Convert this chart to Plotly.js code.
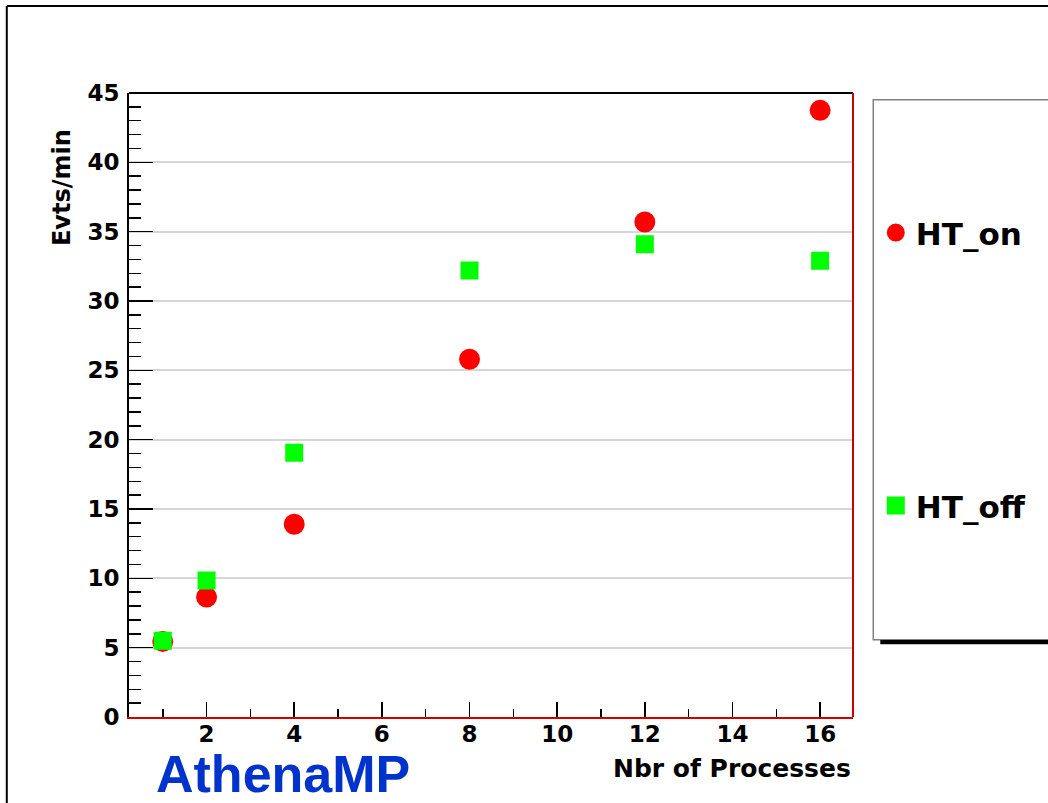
<!DOCTYPE html>
<html>
<head>
<meta charset="utf-8">
<script src="https://cdn.plot.ly/plotly-3.0.1.min.js"></script>
<style>
  html, body { margin: 0; padding: 0; background: #ffffff; }
  #chart { width: 1048px; height: 803px; }
</style>
</head>
<body>
<div id="chart"></div>
<script>
// ---- data ----
const procs = [1, 2, 4, 8, 12, 16];
const htOn  = [5.45, 8.65, 13.9, 25.8, 35.7, 43.75];
const htOff = [5.5, 9.85, 19.05, 32.2, 34.1, 32.9];
const seriesNames = ["HT_on", "HT_off"];
const xTickVals = [2, 4, 6, 8, 10, 12, 14, 16];
const yTickVals = [0, 5, 10, 15, 20, 25, 30, 35, 40, 45];
const xTitle = "Nbr of Processes";
const yTitle = "Evts/min";
const tag = "AthenaMP";

const tickFont = {family: "DejaVu Sans", size: 23, color: "#000000", weight: "bold"};
const titleFont = {family: "DejaVu Sans", size: 24, color: "#000000", weight: "bold"};
const legendFont = {family: "DejaVu Sans", size: 31, color: "#000000", weight: "bold"};

const traces = [
  {
    x: procs, y: htOn, name: seriesNames[0], type: "scatter", mode: "markers",
    marker: {symbol: "circle", size: 19, color: "#ff0000", line: {width: 2, color: "#ff0000"}},
    legend: "legend", cliponaxis: false
  },
  {
    x: procs, y: htOff, name: seriesNames[1], type: "scatter", mode: "markers",
    marker: {symbol: "square", size: 16, color: "#00ff00", line: {width: 2, color: "#00ff00"}},
    legend: "legend2", cliponaxis: false
  }
];

const layout = {
  width: 1048, height: 803,
  margin: {l: 129, r: 195, t: 93, b: 86, pad: 0},
  paper_bgcolor: "#ffffff", plot_bgcolor: "#ffffff",
  showlegend: true,
  xaxis: {
    range: [0.23, 16.75], tickmode: "array", tickvals: xTickVals,
    ticks: "inside", ticklen: 15, tickwidth: 1.5, tickcolor: "#000000",
    minor: {dtick: 1, tick0: 0, ticks: "inside", ticklen: 8, tickwidth: 1.5, tickcolor: "#000000", showgrid: false},
    showgrid: false, zeroline: false,
    showline: true, linecolor: "#d00000", linewidth: 2, mirror: false,
    tickfont: tickFont, ticklabelstandoff: -5
  },
  yaxis: {
    range: [0, 45], tickmode: "array", tickvals: yTickVals,
    ticks: "inside", ticklen: 24, tickwidth: 1.5, tickcolor: "#000000",
    minor: {dtick: 1, tick0: 0, ticks: "inside", ticklen: 12, tickwidth: 1.5, tickcolor: "#000000", showgrid: false},
    showgrid: true, gridcolor: "#d6d6d6", gridwidth: 2,
    zeroline: false,
    showline: true, linecolor: "#000000", linewidth: 2, mirror: false,
    tickfont: tickFont, ticklabelstandoff: 3
  },
  legend: {
    x: 1.0315, xanchor: "left", y: 0.7757, yanchor: "middle",
    bgcolor: "rgba(0,0,0,0)", borderwidth: 0, font: legendFont
  },
  legend2: {
    x: 1.0315, xanchor: "left", y: 0.3385, yanchor: "middle",
    bgcolor: "rgba(0,0,0,0)", borderwidth: 0, font: legendFont
  },
  shapes: [
    // frame top (black) and right (red)
    {type: "line", xref: "paper", yref: "paper", x0: 0, x1: 1, y0: 1, y1: 1, line: {color: "#000000", width: 2}},
    {type: "line", xref: "paper", yref: "paper", x0: 1, x1: 1, y0: 0, y1: 1, line: {color: "#d00000", width: 2}},
    // legend box and shadow
    {type: "rect", xref: "paper", yref: "paper", x0: 1.028, x1: 1.30, y0: 0.1238, y1: 0.9893,
     line: {color: "#808080", width: 1.5}, fillcolor: "rgba(0,0,0,0)", layer: "below"},
    {type: "rect", xref: "paper", yref: "paper", x0: 1.0377, x1: 1.30, y0: 0.1165, y1: 0.1235,
     line: {width: 0}, fillcolor: "#000000"},
    // outer canvas border (left and top)
    {type: "line", xref: "paper", yref: "paper", x0: -0.1688, x1: -0.1688, y0: -0.2, y1: 1.1394, line: {color: "#000000", width: 2}},
    {type: "line", xref: "paper", yref: "paper", x0: -0.1688, x1: 1.30, y0: 1.1394, y1: 1.1394, line: {color: "#000000", width: 2}}
  ],
  annotations: [
    {text: xTitle, xref: "paper", yref: "paper", x: 1.0, y: -0.0828, xanchor: "right", yanchor: "middle",
     showarrow: false, font: {family: "DejaVu Sans", size: 25, color: "#000000", weight: "bold"}},
    {text: yTitle, xref: "paper", yref: "paper", x: -0.0917, y: 0.8486, xanchor: "center", yanchor: "middle",
     textangle: -90, showarrow: false, font: titleFont},
    {text: tag, xref: "paper", yref: "paper", x: 0.034, y: -0.091, xanchor: "left", yanchor: "middle",
     showarrow: false, font: {family: "Liberation Sans", size: 52, color: "#0033cc", weight: "bold"}}
  ]
};

Plotly.newPlot("chart", traces, layout, {displayModeBar: false, staticPlot: true});
</script>
</body>
</html>
